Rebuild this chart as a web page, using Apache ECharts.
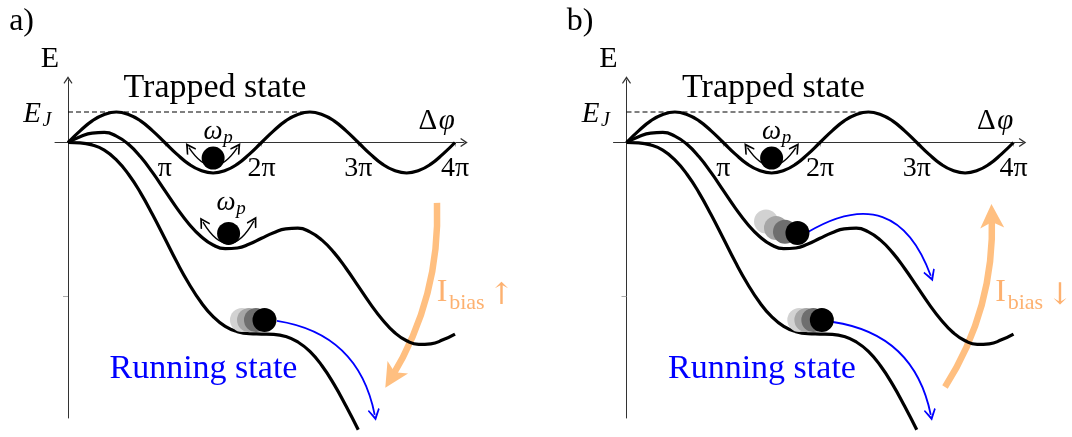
<!DOCTYPE html>
<html>
<head>
<meta charset="utf-8">
<script src="https://cdn.jsdelivr.net/npm/echarts@6/dist/echarts.min.js"></script>
<style>
  html, body { margin: 0; padding: 0; background: #fff; }
  #chart { width: 1072px; height: 437px; }
</style>
</head>
<body>
<div id="chart"></div>
<script>
// Phase difference Δφ in units of π
const phase = [0, 0.125, 0.25, 0.375, 0.5, 0.625, 0.75, 0.875, 1, 1.125, 1.25, 1.375, 1.5, 1.625, 1.75, 1.875,
  2, 2.125, 2.25, 2.375, 2.5, 2.625, 2.75, 2.875, 3, 3.125, 3.25, 3.375, 3.5, 3.625, 3.75, 3.875, 4];

// Potential energy in units of E_J for three bias currents
const energyNoBias = [0, 0.38, 0.71, 0.92, 1, 0.92, 0.71, 0.38, 0, -0.38, -0.71, -0.92, -1, -0.92, -0.71, -0.38,
  0, 0.38, 0.71, 0.92, 1, 0.92, 0.71, 0.38, 0, -0.38, -0.71, -0.92, -1, -0.92, -0.71, -0.38, 0];
const energyHalfBias = [0, 0.19, 0.31, 0.33, 0.21, -0.06, -0.47, -0.99, -1.57, -2.15, -2.67, -3.08, -3.36, -3.48, -3.46, -3.33,
  -3.14, -2.96, -2.83, -2.81, -2.93, -3.20, -3.61, -4.13, -4.71, -5.29, -5.81, -6.23, -6.50, -6.62, -6.60, -6.47, -6.28];
const energyCriticalBias = [0, -0.01, -0.08, -0.25, -0.57, -1.04, -1.65, -2.37, -3.14, -3.92, -4.63, -5.24, -5.71, -6.03, -6.20, -6.27,
  -6.28, -6.29, -6.36, -6.54, -6.85, -7.32, -7.93, -8.65, -9.42];

// Josephson energy level
const ejLevel = [[0, 1], [2.5, 1]];

// Axis ticks
const tickValues = [1, 2, 3, 4];
const tickLabels = ['π', '2π', '3π', '4π'];

// Particle positions (Δφ/π, E/E_J)
const trappedParticle = [[1.5, -0.51]];
const middleParticleA = [[1.66, -2.98]];
const runningTrailA = [[1.798, -5.82], [1.871, -5.82], [1.943, -5.82], [2.031, -5.82]];
const middleTrailB = [[1.442, -2.59], [1.545, -2.80], [1.638, -2.93], [1.767, -2.967]];
const runningTrailB = [[1.786, -5.82], [1.859, -5.82], [1.931, -5.82], [2.019, -5.82]];

// Arrow end points (Δφ/π, E/E_J)
const oscTop = [[1.25, -0.17], [1.75, -0.17]];
const oscMiddle = [[1.395, -2.61], [1.92, -2.58]];
const runLowerA = [[2.16, -5.85], [3.17, -8.93]];
const runUpperB = [[1.876, -2.934], [3.145, -4.37]];
const runLowerB = [[2.134, -5.885], [3.145, -8.93]];
const biasUp = [[3.814, -1.98], [3.344, -7.705]];
const biasDown = [[3.292, -8.016], [3.776, -2.41]];

// Axis ranges
const xMin = -0.1344, xMax = 4.093;
const yMin = -9.033, yMax = 2.049;

const trailColors = ['#d2d2d2', '#a6a6a6', '#6e6e6e', '#000000'];
const orange = '#ffbf80';
const orangeText = '#fdb170';
const serif = '"Liberation Serif", "DejaVu Serif", serif';
const chevron = 'path://M0,0 L6,9 L4.8,10 L0,3.4 L-4.8,10 L-6,9 Z';
const stealth = 'path://M0,0 L11,24 L0,18 L-11,24 Z';

const PANEL_SHIFT = 558.5;
const GRID_H = 338;

function pairs(xs, ys) { return ys.map((y, k) => [xs[k], y]); }

function curve(i, values) {
  return {
    type: 'line', xAxisIndex: i, yAxisIndex: i, data: pairs(phase, values),
    smooth: true, symbol: 'none', clip: false, z: 3,
    lineStyle: { color: '#000', width: 3.2 }
  };
}

function balls(i, pts, size) {
  const colors = pts.length === 1 ? ['#000'] : trailColors;
  return {
    type: 'scatter', xAxisIndex: i, yAxisIndex: i, symbolSize: size, z: 6, clip: false,
    data: pts.map((p, k) => ({ value: p, itemStyle: { color: colors[k], opacity: 1 } }))
  };
}

function arrow(i, coords, bend, color, width, symbols, size, z) {
  return {
    type: 'lines', coordinateSystem: 'cartesian2d', xAxisIndex: i, yAxisIndex: i,
    symbol: symbols, symbolSize: size, clip: false, z: z, silent: true,
    lineStyle: { color: color, width: width, curveness: bend, opacity: 1 },
    data: [{ coords: coords }]
  };
}

const grids = [0, 1].map(i => ({
  left: 55 + i * PANEL_SHIFT, top: 80, width: 409, height: GRID_H,
  containLabel: false, outerBoundsMode: 'none'
}));

// the Δφ axis sits on E = 0
const xOffset = -(0 - yMin) / (yMax - yMin) * GRID_H;

const xAxes = [0, 1].map(i => ({
  type: 'value', gridIndex: i, min: xMin, max: xMax, position: 'bottom', offset: xOffset,
  splitLine: { show: false },
  axisLine: { onZero: false, symbol: ['none', chevron], symbolSize: [9, 10],
    lineStyle: { color: '#333', width: 1 } },
  axisTick: { customValues: tickValues, length: 4, lineStyle: { color: '#aaa' } },
  axisLabel: { customValues: tickValues, formatter: v => tickLabels[tickValues.indexOf(v)],
    fontFamily: serif, fontSize: 28, color: '#000', margin: 12 }
}));

const yAxes = [0, 1].map(i => ({
  type: 'value', gridIndex: i, min: yMin, max: yMax,
  splitLine: { show: false },
  axisLine: { onZero: true, symbol: ['none', chevron], symbolSize: [9, 10],
    lineStyle: { color: '#333', width: 1 } },
  axisTick: { customValues: [-5.03], length: 5, lineStyle: { color: '#aaa' } },
  axisLabel: { show: false }
}));

const series = [];
[0, 1].forEach(i => {
  series.push(curve(i, energyNoBias), curve(i, energyHalfBias), curve(i, energyCriticalBias));
  series.push({
    type: 'line', xAxisIndex: i, yAxisIndex: i, data: ejLevel, symbol: 'none', z: 2,
    lineStyle: { color: '#000', width: 1.2, type: [5, 3] }
  });
  series.push(balls(i, trappedParticle, 23));
  series.push(arrow(i, oscTop, -0.75, '#000', 1.4, [chevron, chevron], 11, 4));
});
// panel a: increasing bias
series.push(balls(0, middleParticleA, 23));
series.push(balls(0, runningTrailA, 24));
series.push(arrow(0, oscMiddle, -0.86, '#000', 1.4, [chevron, chevron], 11, 4));
series.push(arrow(0, runLowerA, 0.35, '#0000ff', 1.8, ['none', chevron], 12, 4));
series.push(arrow(0, biasUp, 0.15, orange, 6.5, ['none', stealth], 24, 1));
// panel b: decreasing bias
series.push(balls(1, middleTrailB, 24));
series.push(balls(1, runningTrailB, 24));
series.push(arrow(1, runUpperB, 0.6, '#0000ff', 1.8, ['none', chevron], 12, 4));
series.push(arrow(1, runLowerB, 0.35, '#0000ff', 1.8, ['none', chevron], 12, 4));
series.push(arrow(1, biasDown, -0.155, orange, 6.5, ['none', stealth], 24, 1));

const chart = echarts.init(document.getElementById('chart'), null, { renderer: 'canvas' });
chart.setOption({
  animation: false,
  backgroundColor: '#fff',
  grid: grids, xAxis: xAxes, yAxis: yAxes, series: series
});

// Annotation anchors in axis units (Δφ/π, E/E_J)
const anchors = {
  panel: [-0.48, 3.95], energy: [-0.186, 2.74],
  ejMain: [-0.372, 0.93], ejSub: [-0.217, 0.70],
  trapped: [1.519, 1.80], delta: [3.72, 0.70], phi: [3.915, 0.70],
  omegaTop: [1.499, 0.344], pTop: [1.654, 0.148],
  omegaMid: [1.633, -1.984], pMid: [1.788, -2.18],
  biasI: [3.866, -4.93], biasSub: [3.94, -5.26], biasArrow: [4.48, -5.03],
  running: [1.40, -7.44]
};

function text(i, key, str, size, opts) {
  const p = chart.convertToPixel({ xAxisIndex: i, yAxisIndex: i }, anchors[key]);
  opts = opts || {};
  return {
    type: 'text', x: p[0], y: p[1], z: 10, silent: true,
    style: {
      text: str, fontFamily: opts.family || serif, fontSize: size, fontStyle: opts.italic ? 'italic' : 'normal',
      fill: opts.color || '#000', align: opts.align || 'center', verticalAlign: 'middle'
    }
  };
}

const graphics = [];
[0, 1].forEach(i => {
  graphics.push(
    text(i, 'panel', i === 0 ? 'a)' : 'b)', 32),
    text(i, 'energy', 'E', 30),
    text(i, 'ejMain', 'E', 29, { italic: true }),
    text(i, 'ejSub', 'J', 20, { italic: true }),
    text(i, 'trapped', 'Trapped state', 34),
    text(i, 'delta', 'Δ', 29),
    text(i, 'phi', 'φ', 29, { italic: true }),
    text(i, 'omegaTop', 'ω', 27, { italic: true }),
    text(i, 'pTop', 'p', 19, { italic: true }),
    text(i, 'biasI', 'I', 32, { color: orangeText }),
    text(i, 'biasSub', 'bias', 22, { color: orangeText, align: 'left' }),
    text(i, 'biasArrow', i === 0 ? '↑' : '↓', 30, { color: orangeText, family: '"DejaVu Serif", serif' }),
    text(i, 'running', 'Running state', 34, { color: '#0000ff' })
  );
});
graphics.push(
  text(0, 'omegaMid', 'ω', 27, { italic: true }),
  text(0, 'pMid', 'p', 19, { italic: true })
);
chart.setOption({ graphic: graphics });
</script>
</body>
</html>
